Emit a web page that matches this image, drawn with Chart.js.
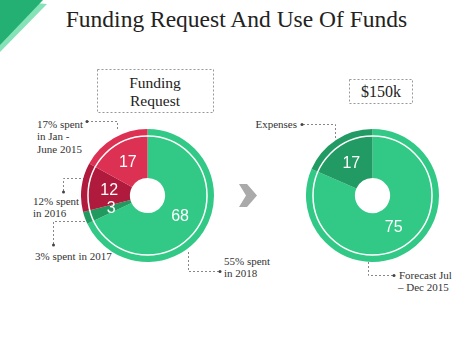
<!DOCTYPE html>
<html>
<head>
<meta charset="utf-8">
<script src="https://cdn.jsdelivr.net/npm/chart.js@4/dist/chart.umd.min.js"></script>
<style>
  html, body { margin: 0; padding: 0; background: #fff; }
  #wrap { position: relative; width: 474px; height: 355px; overflow: hidden; }
  #deco { position: absolute; left: 0; top: 0; }
  canvas { position: absolute; }
  #c1 { left: 81px; top: 129px; }
  #c2 { left: 306px; top: 129px; }
</style>
</head>
<body>
<div id="wrap">
  <svg id="deco" width="474" height="355" xmlns="http://www.w3.org/2000/svg">
    <polygon points="0,0 47,4 0,52" fill="#86e3b8"/>
    <polygon points="0,0 43,0 0,45" fill="#25b073"/>
    <text x="236.5" y="26.5" text-anchor="middle" font-family="Liberation Serif, Times New Roman, serif" font-size="23.5" fill="#222">Funding Request And Use Of Funds</text>

    <rect x="97.5" y="69.5" width="116" height="43" fill="none" stroke="#999" stroke-dasharray="2,2"/>
    <text x="155" y="88" text-anchor="middle" font-family="Liberation Serif, serif" font-size="15.5" fill="#222">Funding</text>
    <text x="155" y="106" text-anchor="middle" font-family="Liberation Serif, serif" font-size="15.5" fill="#222">Request</text>

    <rect x="349.5" y="79.5" width="63" height="24" fill="none" stroke="#999" stroke-dasharray="2,2"/>
    <text x="381" y="97" text-anchor="middle" font-family="Liberation Serif, serif" font-size="16" fill="#222">$150k</text>

    <g fill="none" stroke="#888" stroke-width="1" stroke-dasharray="2,2">
      <polyline points="87,121.5 117.5,121.5 117.5,131"/>
      <polyline points="63.5,191 63.5,178.5 84,178.5"/>
      <polyline points="53.5,244 53.5,221.5 88,221.5"/>
      <polyline points="219,271.5 188.5,271.5 188.5,251"/>
      <polyline points="303,124.5 335.5,124.5 335.5,138"/>
      <polyline points="393,275.5 368.5,275.5 368.5,261"/>
    </g>
    <g fill="#444">
      <circle cx="87" cy="121.5" r="1.5"/>
      <circle cx="63.5" cy="192" r="1.5"/>
      <circle cx="53.5" cy="245" r="1.5"/>
      <circle cx="220" cy="271.5" r="1.5"/>
      <circle cx="302" cy="124.5" r="1.5"/>
      <circle cx="394" cy="275.5" r="1.5"/>
    </g>
    <g font-family="Liberation Serif, serif" font-size="11" fill="#333">
      <text x="37" y="127.5">17% spent</text>
      <text x="37" y="140">in Jan -</text>
      <text x="37" y="152.5">June 2015</text>
      <text x="33" y="205">12% spent</text>
      <text x="33" y="217">in 2016</text>
      <text x="35" y="260">3% spent in 2017</text>
      <text x="224" y="265">55% spent</text>
      <text x="224" y="277">in 2018</text>
      <text x="297" y="127.5" text-anchor="end">Expenses</text>
      <text x="399" y="278.5">Forecast Jul</text>
      <text x="398" y="291">– Dec 2015</text>
    </g>
    <polygon points="239,184 247,184 257,195.5 247,207 239,207 246,195.5" fill="#aaaaaa"/>
  </svg>
  <canvas id="c1" width="133" height="133"></canvas>
  <canvas id="c2" width="133" height="133"></canvas>
</div>
<script>
const leftCategories = ['55% spent in 2018', '3% spent in 2017', '12% spent in 2016', '17% spent in Jan - June 2015'];
const leftValues = [68, 3, 12, 17];
const leftColors = ['#31c985', '#22995f', '#b01a3c', '#dc3152'];

const rightCategories = ['Forecast Jul – Dec 2015', 'Expenses'];
const rightValues = [75, 17];
const rightColors = ['#31c985', '#229a63'];

const ringAndLabels = {
  id: 'ringAndLabels',
  afterDatasetsDraw(chart) {
    const ctx = chart.ctx;
    const meta = chart.getDatasetMeta(0);
    const values = chart.data.datasets[0].data;
    if (!meta.data.length) return;
    const a0 = meta.data[0];
    ctx.save();
    ctx.beginPath();
    ctx.arc(a0.x, a0.y, a0.outerRadius * 0.895, 0, Math.PI * 2);
    ctx.strokeStyle = '#ffffff';
    ctx.lineWidth = 1.5;
    ctx.stroke();
    ctx.fillStyle = '#ffffff';
    ctx.font = '16px "Liberation Sans", Arial, sans-serif';
    ctx.textAlign = 'center';
    ctx.textBaseline = 'middle';
    meta.data.forEach((arc, i) => {
      const mid = (arc.startAngle + arc.endAngle) / 2;
      const r = arc.outerRadius * 0.58;
      ctx.fillText(String(values[i]), arc.x + r * Math.cos(mid), arc.y + r * Math.sin(mid));
    });
    ctx.restore();
  }
};

function makeDoughnut(id, labels, values, colors) {
  return new Chart(document.getElementById(id), {
    type: 'doughnut',
    data: {
      labels: labels,
      datasets: [{ data: values, backgroundColor: colors, borderWidth: 0, hoverOffset: 0 }]
    },
    options: {
      responsive: false,
      animation: false,
      cutout: '26.5%',
      layout: { padding: 0 },
      plugins: { legend: { display: false }, tooltip: { enabled: false } },
      events: []
    },
    plugins: [ringAndLabels]
  });
}

makeDoughnut('c1', leftCategories, leftValues, leftColors);
makeDoughnut('c2', rightCategories, rightValues, rightColors);
</script>
</body>
</html>
